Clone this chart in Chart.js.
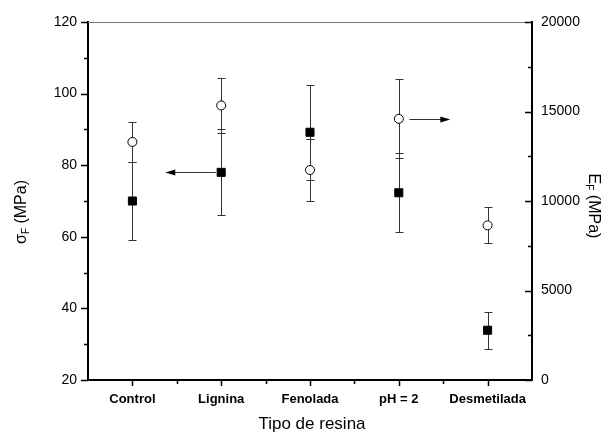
<!DOCTYPE html>
<html>
<head>
<meta charset="utf-8">
<script src="https://cdn.jsdelivr.net/npm/chart.js@4.4.0/dist/chart.umd.min.js"></script>
<style>
  html, body { margin: 0; padding: 0; background: #fff; }
</style>
</head>
<body>
<canvas id="myChart" width="609" height="434"></canvas>
<script>
const categories = ["Control", "Lignina", "Fenolada", "pH = 2", "Desmetilada"];
const sigmaF = [70, 78, 89.2, 72.3, 33.9];
const sigmaErr = [11, 12, 13.3, 11, 5.2];
const modE = [13300, 15340, 11730, 14590, 8640];
const modErr = [1100, 1530, 1740, 2200, 1000];
const sigmaTicks = [20, 40, 60, 80, 100, 120];
const modTicks = [0, 5000, 10000, 15000, 20000];
// arrows pointing to the axis each series belongs to (category units, axis value)
const arrows = [
	{ from: 0.94, to: 0.37, value: 78, axis: "y" },
	{ from: 3.12, to: 3.58, value: 14590, axis: "y1" },
];

const FONT = "'Liberation Sans', Arial, sans-serif";

// error bars, arrows, minor/major tick marks and axis titles
const extras = {
	id: "extras",
	beforeDatasetsDraw(chart) {
		const ctx = chart.ctx;
		const xs = chart.scales.x;
		ctx.save();
		ctx.strokeStyle = "#333";
		ctx.lineWidth = 1;
		chart.data.datasets.forEach((ds) => {
			const ys = chart.scales[ds.yAxisID];
			ds.data.forEach((p, i) => {
				const px = Math.round(xs.getPixelForValue(p.x)) + 0.5;
				const top = Math.round(ys.getPixelForValue(p.y + ds.err[i])) + 0.5;
				const bot = Math.round(ys.getPixelForValue(p.y - ds.err[i])) + 0.5;
				ctx.beginPath();
				ctx.moveTo(px, top);
				ctx.lineTo(px, bot);
				ctx.moveTo(px - 4, top);
				ctx.lineTo(px + 4, top);
				ctx.moveTo(px - 4, bot);
				ctx.lineTo(px + 4, bot);
				ctx.stroke();
			});
		});

		arrows.forEach((a) => {
			const ys = chart.scales[a.axis];
			const y = Math.round(ys.getPixelForValue(a.value)) + 0.5;
			const x1 = xs.getPixelForValue(a.from);
			const x2 = xs.getPixelForValue(a.to);
			const dir = x2 > x1 ? 1 : -1;
			ctx.strokeStyle = "#333";
			ctx.beginPath();
			ctx.moveTo(x1, y);
			ctx.lineTo(x2 - dir * 8, y);
			ctx.stroke();
			ctx.fillStyle = "#000";
			ctx.beginPath();
			ctx.moveTo(x2, y);
			ctx.lineTo(x2 - dir * 10, y - 3);
			ctx.lineTo(x2 - dir * 10, y + 3);
			ctx.closePath();
			ctx.fill();
		});
		ctx.restore();
	},
	afterDraw(chart) {
		const ctx = chart.ctx;
		const area = chart.chartArea;
		const xs = chart.scales.x;
		const yl = chart.scales.y;
		const yr = chart.scales.y1;
		ctx.save();

		// top frame line
		ctx.strokeStyle = "#777";
		ctx.lineWidth = 1;
		ctx.beginPath();
		ctx.moveTo(area.left, area.top + 0.5);
		ctx.lineTo(area.right, area.top + 0.5);
		ctx.stroke();

		ctx.strokeStyle = "#000";
		ctx.lineWidth = 1.5;
		ctx.beginPath();
		// left axis: outward
		sigmaTicks.forEach((v, i) => {
			const y = Math.round(yl.getPixelForValue(v)) + 0.5;
			ctx.moveTo(area.left - 7, y);
			ctx.lineTo(area.left, y);
			if (i < sigmaTicks.length - 1) {
				const ym = Math.round(yl.getPixelForValue((v + sigmaTicks[i + 1]) / 2)) + 0.5;
				ctx.moveTo(area.left - 4, ym);
				ctx.lineTo(area.left, ym);
			}
		});
		// right axis: inward
		modTicks.forEach((v, i) => {
			const y = Math.round(yr.getPixelForValue(v)) + 0.5;
			ctx.moveTo(area.right - 7, y);
			ctx.lineTo(area.right, y);
			if (i < modTicks.length - 1) {
				const ym = Math.round(yr.getPixelForValue((v + modTicks[i + 1]) / 2)) + 0.5;
				ctx.moveTo(area.right - 4, ym);
				ctx.lineTo(area.right, ym);
			}
		});
		// bottom axis: outward
		categories.forEach((c, i) => {
			const x = Math.round(xs.getPixelForValue(i)) + 0.5;
			ctx.moveTo(x, area.bottom);
			ctx.lineTo(x, area.bottom + 6);
			if (i < categories.length - 1) {
				const xm = Math.round(xs.getPixelForValue(i + 0.5)) + 0.5;
				ctx.moveTo(xm, area.bottom);
				ctx.lineTo(xm, area.bottom + 4);
			}
		});
		ctx.stroke();

		// axis titles
		ctx.fillStyle = "#000";
		ctx.textBaseline = "middle";
		const drawSub = (main, sub, rest, cx, cy, angle, subShift) => {
			ctx.save();
			ctx.translate(cx, cy);
			ctx.rotate(angle);
			ctx.font = "16px " + FONT;
			const w1 = ctx.measureText(main).width;
			const w3 = ctx.measureText(rest).width;
			ctx.font = "10px " + FONT;
			const w2 = ctx.measureText(sub).width;
			let x = -(w1 + w2 + w3) / 2;
			ctx.textAlign = "left";
			ctx.font = "16px " + FONT;
			ctx.fillText(main, x, 0);
			ctx.font = "10px " + FONT;
			ctx.fillText(sub, x + w1, subShift);
			ctx.font = "16px " + FONT;
			ctx.fillText(rest, x + w1 + w2, 0);
			ctx.restore();
		};
		drawSub("\u03C3", "F", " (MPa)", 22, 212, -Math.PI / 2, 4);
		drawSub("E", "F", " (MPa)", 593, 206, Math.PI / 2, 4);

		ctx.font = "17px " + FONT;
		ctx.textAlign = "center";
		ctx.fillText("Tipo de resina", (area.left + area.right) / 2 + 2, 424);
		ctx.restore();
	},
};

const ctx = document.getElementById("myChart").getContext("2d");
const myChart = new Chart(ctx, {
	type: "scatter",
	data: {
		datasets: [
			{
				label: "\u03C3F",
				data: sigmaF.map((v, i) => ({ x: i, y: v })),
				err: sigmaErr,
				yAxisID: "y",
				pointStyle: "rect",
				pointRadius: 5.7,
				backgroundColor: "#000",
				borderColor: "#000",
				borderWidth: 1,
			},
			{
				label: "EF",
				data: modE.map((v, i) => ({ x: i, y: v })),
				err: modErr,
				yAxisID: "y1",
				pointStyle: "circle",
				pointRadius: 4.5,
				backgroundColor: "#fff",
				borderColor: "#000",
				borderWidth: 1,
			},
		],
	},
	options: {
		responsive: false,
		animation: false,
		devicePixelRatio: 1,
		layout: { padding: { top: 22, left: 0, right: 0, bottom: 0 } },
		plugins: {
			legend: { display: false },
			tooltip: { enabled: false },
		},
		scales: {
			x: {
				type: "linear",
				min: -0.5,
				max: 4.5,
				afterBuildTicks: (s) => {
					s.ticks = categories.map((c, i) => ({ value: i }));
				},
				afterFit: (s) => {
					s.height = 54;
				},
				grid: { display: false, drawTicks: false },
				border: { display: true, color: "#000", width: 2 },
				ticks: {
					callback: (v) => categories[v],
					font: { family: FONT, size: 13, weight: "bold" },
					color: "#000",
					padding: 12,
					maxRotation: 0,
					autoSkip: false,
				},
			},
			y: {
				position: "left",
				min: 20,
				max: 120,
				afterBuildTicks: (s) => {
					s.ticks = sigmaTicks.map((v) => ({ value: v }));
				},
				afterFit: (s) => {
					s.width = 88;
				},
				grid: { display: false, drawTicks: false },
				border: { display: true, color: "#000", width: 2 },
				ticks: {
					callback: (v) => String(v),
					font: { family: FONT, size: 14 },
					color: "#000",
					padding: 11,
				},
			},
			y1: {
				position: "right",
				min: 0,
				max: 20000,
				afterBuildTicks: (s) => {
					s.ticks = modTicks.map((v) => ({ value: v }));
				},
				afterFit: (s) => {
					s.width = 77;
				},
				grid: { display: false, drawTicks: false },
				border: { display: true, color: "#000", width: 2 },
				ticks: {
					callback: (v) => String(v),
					font: { family: FONT, size: 14 },
					color: "#000",
					padding: 9,
				},
			},
		},
	},
	plugins: [extras],
});
</script>
</body>
</html>
